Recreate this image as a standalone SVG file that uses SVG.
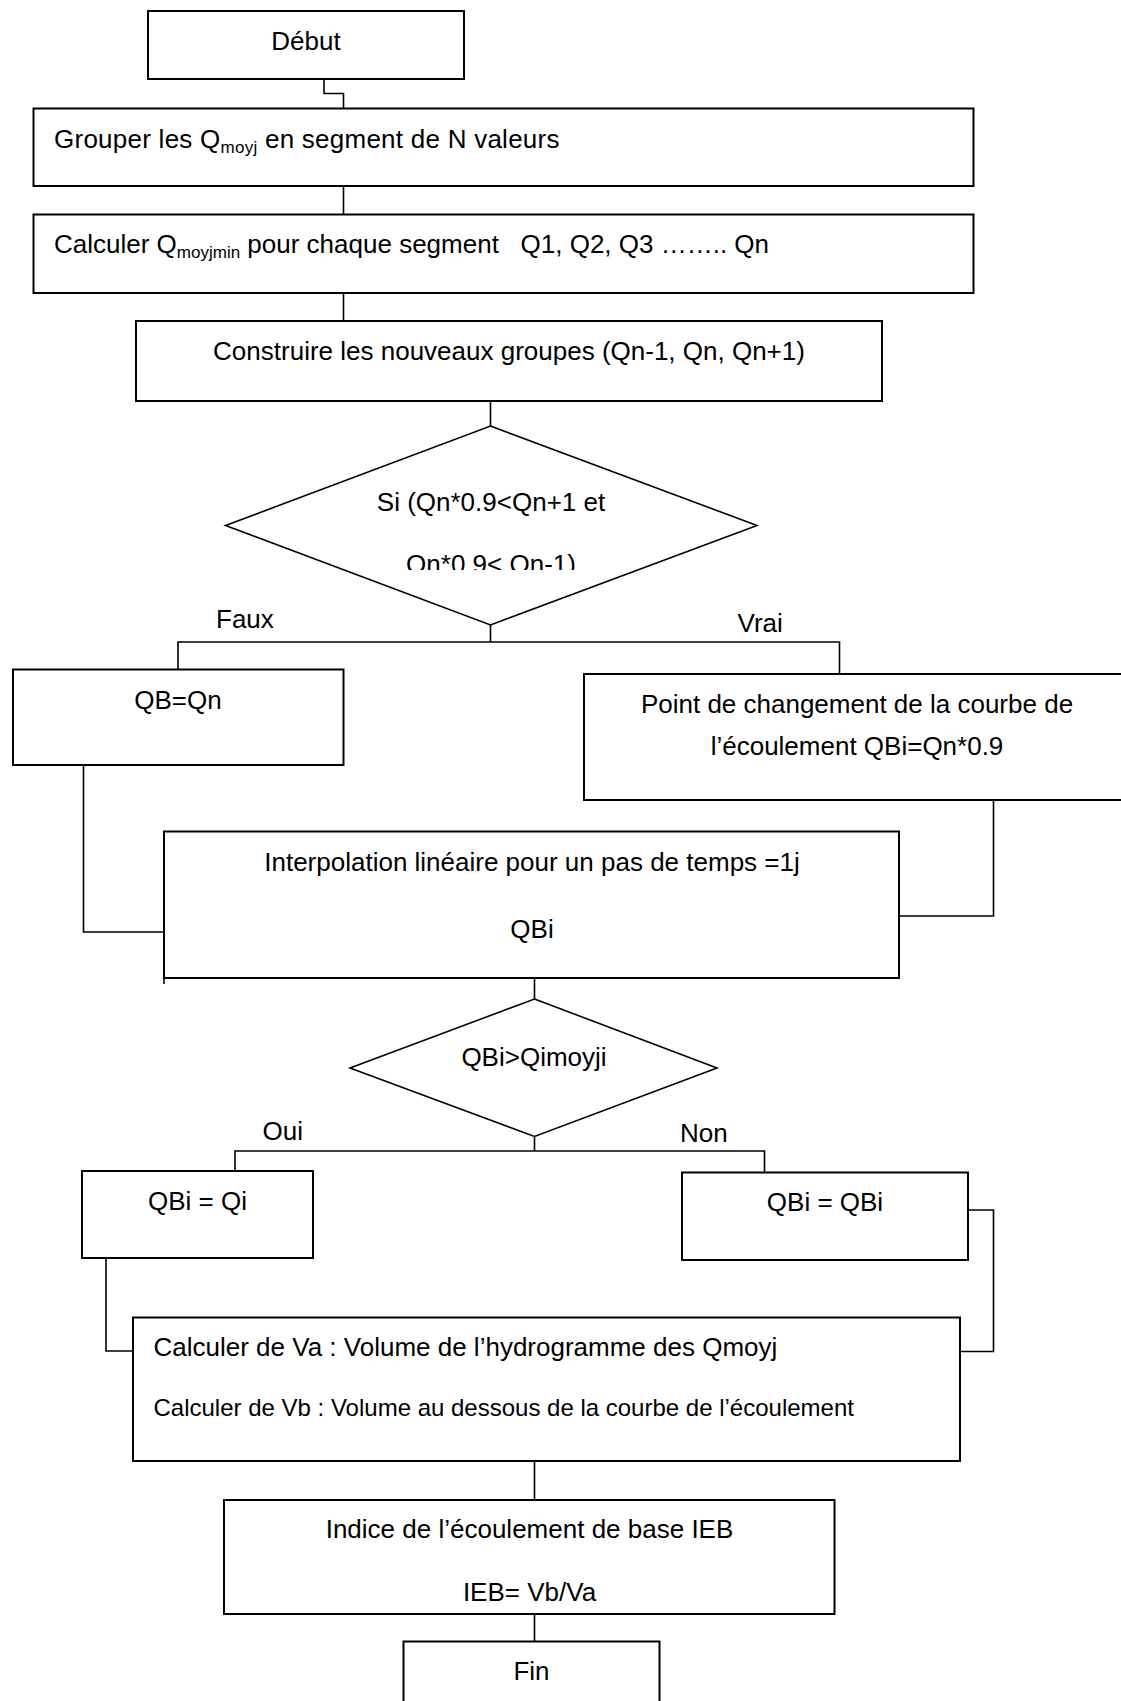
<svg xmlns="http://www.w3.org/2000/svg" width="1121" height="1701" viewBox="0 0 1121 1701">
<style>
  .box { fill: #ffffff; stroke: #000000; stroke-width: 2; }
  .dia { fill: #ffffff; stroke: #000000; stroke-width: 1.6; }
  .con { fill: none; stroke: #000000; stroke-width: 1.6; }
  text { font-family: "Liberation Sans", Arial, sans-serif; font-size: 26px; fill: #000000; }
  .c { text-anchor: middle; }
  .sm { font-size: 24px; }
  .sub { font-size: 17px; }
</style>
<defs>
  <clipPath id="clipDia1">
    <rect x="220" y="420" width="545" height="150"/>
  </clipPath>
</defs>
<rect x="0" y="0" width="1121" height="1701" fill="#ffffff"/>

<g id="connectors">
  <path class="con" d="M324,79 V93.5 H343.5 V108.5"/>
  <path class="con" d="M343.5,186 V214.5"/>
  <path class="con" d="M343.5,293 V321"/>
  <path class="con" d="M490.5,400 V426"/>
  <path class="con" d="M490.5,625 V642"/>
  <path class="con" d="M178,669.5 V642 H839.5 V674"/>
  <path class="con" d="M83.5,765 V932 H164"/>
  <path class="con" d="M993.5,800 V916 H899"/>
  <path class="con" d="M534.5,978 V999"/>
  <path class="con" d="M534.5,1136.5 V1151"/>
  <path class="con" d="M235,1171 V1151 H764.5 V1172.5"/>
  <path class="con" d="M106,1258 V1351 H133"/>
  <path class="con" d="M968,1210 H993.5 V1351.5 H960"/>
  <path class="con" d="M534.5,1461 V1500"/>
  <path class="con" d="M534.5,1614 V1641.5"/>
  <text x="216" y="628">Faux</text>
  <text x="737.5" y="632">Vrai</text>
  <text x="262.5" y="1140">Oui</text>
  <text x="680" y="1142">Non</text>
</g>

<g id="debut">
  <rect class="box" x="148" y="11" width="316" height="68"/>
  <text class="c" x="306" y="50">Début</text>
</g>

<g id="grouper">
  <rect class="box" x="33.5" y="108.5" width="940" height="77.5"/>
  <text x="54" y="148" letter-spacing="0.25">Grouper les Q<tspan class="sub" dy="5">moyj</tspan><tspan dy="-5"> en segment de N valeurs</tspan></text>
</g>

<g id="calculer-qmin">
  <rect class="box" x="33.5" y="214.5" width="940" height="78.5"/>
  <text x="54" y="253">Calculer Q<tspan class="sub" dy="5">moyjmin</tspan><tspan dy="-5" xml:space="preserve"> pour chaque segment   Q1, Q2, Q3 …….. Qn</tspan></text>
</g>

<g id="construire">
  <rect class="box" x="136" y="321" width="746" height="80"/>
  <text class="c" x="509" y="360">Construire les nouveaux groupes (Qn-1, Qn, Qn+1)</text>
</g>

<g id="decision-1">
  <polygon class="dia" points="490.5,426 757,525.5 490.5,625 225.5,525.5"/>
  <text class="c" x="491" y="511">Si (Qn*0.9&lt;Qn+1 et</text>
  <text class="c" x="491" y="573" clip-path="url(#clipDia1)">Qn*0.9&lt; Qn-1)</text>
</g>

<g id="qb-qn">
  <rect class="box" x="13" y="669.5" width="330.5" height="95.5"/>
  <text class="c" x="178" y="709">QB=Qn</text>
</g>

<g id="point-changement">
  <rect class="box" x="584" y="674" width="546" height="126"/>
  <text class="c" x="857" y="713">Point de changement de la courbe de</text>
  <text class="c" x="857" y="755">l’écoulement QBi=Qn*0.9</text>
</g>

<g id="interpolation">
  <rect class="box" x="164" y="831.5" width="735" height="146.5"/>
  <path class="con" d="M164,978 V984"/>
  <text class="c" x="532" y="871">Interpolation linéaire pour un pas de temps =1j</text>
  <text class="c" x="532" y="938">QBi</text>
</g>

<g id="decision-2">
  <polygon class="dia" points="534.5,999 717,1068 534.5,1136.5 350,1068"/>
  <text class="c" x="534" y="1066">QBi&gt;Qimoyji</text>
</g>

<g id="qbi-qi">
  <rect class="box" x="82" y="1171" width="231" height="87"/>
  <text class="c" x="197.5" y="1210">QBi = Qi</text>
</g>

<g id="qbi-qbi">
  <rect class="box" x="682" y="1172.5" width="286" height="87.5"/>
  <text class="c" x="825" y="1211">QBi = QBi</text>
</g>

<g id="calculer-volumes">
  <rect class="box" x="133" y="1317.5" width="827" height="143.5"/>
  <text x="153.5" y="1355.5">Calculer de Va : Volume de l’hydrogramme des Qmoyj</text>
  <text class="sm" x="153.5" y="1415.5">Calculer de Vb : Volume au dessous de la courbe de l’écoulement</text>
</g>

<g id="indice">
  <rect class="box" x="224" y="1500" width="610.5" height="114"/>
  <text class="c" x="529.5" y="1537.5">Indice de l’écoulement de base IEB</text>
  <text class="c" x="529.5" y="1600.5">IEB= Vb/Va</text>
</g>

<g id="fin">
  <rect class="box" x="403.5" y="1641.5" width="256" height="80"/>
  <text class="c" x="531.5" y="1679.5">Fin</text>
</g>
</svg>
